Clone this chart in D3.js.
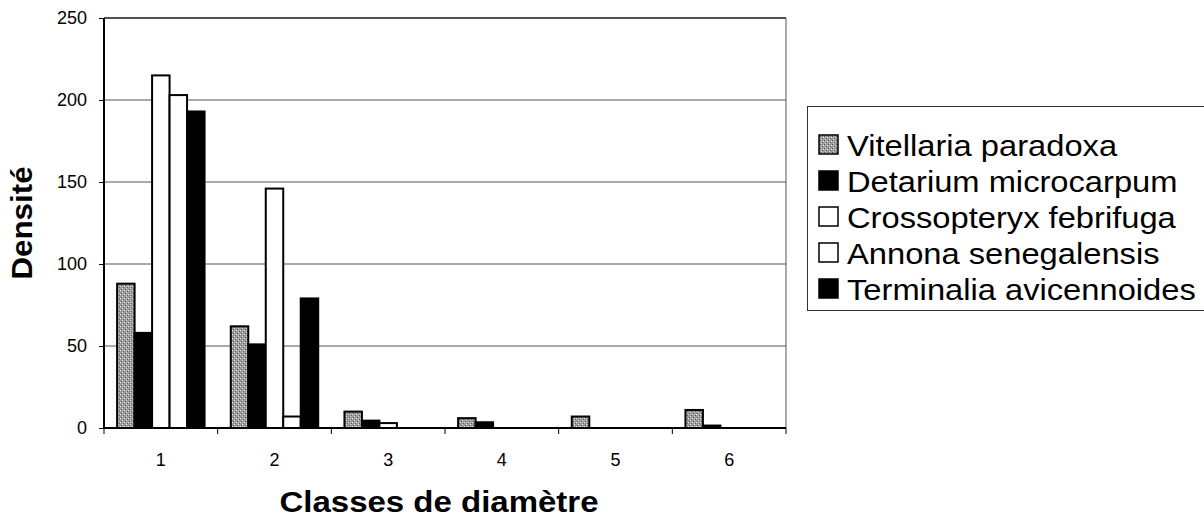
<!DOCTYPE html>
<html>
<head>
<meta charset="utf-8">
<script src="https://cdn.jsdelivr.net/npm/d3@7"></script>
<style>
  body { margin: 0; background: #fff; }
  svg { font-family: "Liberation Sans", Arial, sans-serif; }
</style>
</head>
<body>
<div id="vis"></div>
<script>
// diameter classes on the x axis
var classes = ['1', '2', '3', '4', '5', '6'];
var species = ['Vitellaria paradoxa', 'Detarium microcarpum', 'Crossopteryx febrifuga',
               'Annona senegalensis', 'Terminalia avicennoides'];

// density per class
var vitellaria   = [88, 62, 10, 6, 7, 11];
var detarium     = [58, 51, 4.5, 3.5, 0, 1.5];
var crossopteryx = [215, 146, 3, 0, 0, 0];
var annona       = [203, 7, 0, 0, 0, 0];
var terminalia   = [193, 79, 0, 0, 0, 0];

var yTicks = [0, 50, 100, 150, 200, 250];

var seriesValues = [vitellaria, detarium, crossopteryx, annona, terminalia];
var fills = ['url(#stipple)', '#000', '#fff', '#fff', '#000'];

var width = 1204, height = 519;
var margin = {left: 104, top: 18, right: 418, bottom: 91};
var drawWidth = width - margin.left - margin.right,
    drawHeight = height - margin.top - margin.bottom;

var svg = d3.select('#vis').append('svg')
            .attr('width', width)
            .attr('height', height);

// grey stipple for Vitellaria
var pat = svg.append('defs').append('pattern')
             .attr('id', 'stipple')
             .attr('patternUnits', 'userSpaceOnUse')
             .attr('width', 4).attr('height', 4);
pat.append('rect').attr('width', 4).attr('height', 4).attr('fill', '#9a9a9a');
[[0, 0, '#e8e8e8'], [2, 2, '#dcdcdc'], [1, 3, '#555'], [3, 1, '#666'], [2, 0, '#c8c8c8']].forEach(function(p) {
    pat.append('rect').attr('x', p[0]).attr('y', p[1]).attr('width', 1).attr('height', 1).attr('fill', p[2]);
});

var g = svg.append('g').attr('transform', `translate(${margin.left}, ${margin.top})`);

var xScale = d3.scaleBand().domain(classes).range([0, drawWidth]);
var bw = xScale.bandwidth();
var barW = bw / 6.5;
var xInner = d3.scaleBand().domain(species).range([barW * 0.75, bw - barW * 0.75]);
var yScale = d3.scaleLinear().domain([0, 250]).range([drawHeight, 0]);

// gridlines
g.selectAll('.grid').data(yTicks.slice(1))
 .enter().append('line')
 .attr('x1', 0).attr('x2', drawWidth)
 .attr('y1', d => yScale(d)).attr('y2', d => yScale(d))
 .style('stroke', '#555').style('stroke-width', 1);

// plot frame right
g.append('line').attr('x1', drawWidth).attr('x2', drawWidth)
 .attr('y1', 0).attr('y2', drawHeight)
 .style('stroke', '#555');

// bars
species.forEach(function(s, i) {
    var data = classes.map((c, j) => ({cls: c, value: seriesValues[i][j]}));
    g.selectAll('.bar-' + i).data(data.filter(d => d.value > 0))
     .enter().append('rect')
     .attr('class', 'bar-' + i)
     .attr('x', d => xScale(d.cls) + xInner(s))
     .attr('width', xInner.bandwidth())
     .attr('y', d => yScale(d.value))
     .attr('height', d => drawHeight - yScale(d.value))
     .attr('fill', fills[i])
     .attr('stroke', '#000')
     .attr('stroke-width', 2);
});

// y axis
var yAxis = d3.axisLeft(yScale).tickValues(yTicks).tickSize(5).tickPadding(12);
var yG = g.append('g').call(yAxis);
yG.select('.domain').remove();
yG.selectAll('line').style('stroke', '#000');
yG.selectAll('text').style('font-size', '18px').style('fill', '#000');
g.append('line').attr('x1', 0).attr('x2', 0).attr('y1', 0).attr('y2', drawHeight)
 .style('stroke', '#000').style('stroke-width', 2);

// x axis labels at band centres
var xAxis = d3.axisBottom(xScale).tickSize(0).tickPadding(25);
var xG = g.append('g').attr('transform', `translate(0, ${drawHeight})`).call(xAxis);
xG.select('.domain').remove();
xG.selectAll('text').style('font-size', '18px').style('fill', '#000');

// x ticks at band edges
var edges = classes.map(c => xScale(c)).concat([drawWidth]);
g.selectAll('.xtick').data(edges).enter().append('line')
 .attr('x1', d => d).attr('x2', d => d)
 .attr('y1', drawHeight).attr('y2', drawHeight + 6)
 .style('stroke', '#000');
g.append('line').attr('x1', 0).attr('x2', drawWidth)
 .attr('y1', drawHeight).attr('y2', drawHeight)
 .style('stroke', '#000').style('stroke-width', 2);

// top frame
g.append('line').attr('x1', 0).attr('x2', drawWidth).attr('y1', 0).attr('y2', 0)
 .style('stroke', '#333').style('stroke-width', 1.5);

// axis titles
svg.append('text')
   .attr('transform', `translate(439, 512) scale(1.1, 1)`)
   .attr('text-anchor', 'middle')
   .style('font-size', '30px').style('font-weight', 'bold')
   .text('Classes de diamètre');

svg.append('text')
   .attr('transform', `translate(32, 223) rotate(-90) scale(1.08, 1)`)
   .attr('text-anchor', 'middle')
   .style('font-size', '29px').style('font-weight', 'bold')
   .text('Densité');

// legend
var legend = svg.append('g').attr('transform', 'translate(807, 106)');
legend.append('rect')
      .attr('x', 0.5).attr('y', 0.5)
      .attr('width', 420).attr('height', 204)
      .attr('fill', '#fff').attr('stroke', '#333');

var items = legend.selectAll('.legend').data(species).enter().append('g')
                  .attr('transform', (d, i) => `translate(0, ${39 + i * 36})`);
items.append('rect')
     .attr('x', 12).attr('y', -10)
     .attr('width', 19).attr('height', 19)
     .attr('fill', (d, i) => fills[i])
     .attr('stroke', '#000').attr('stroke-width', 1.5);
items.append('text')
     .attr('transform', 'translate(40, 11) scale(1.09, 1)')
     .style('font-size', '30px')
     .text(d => d);
</script>
</body>
</html>
